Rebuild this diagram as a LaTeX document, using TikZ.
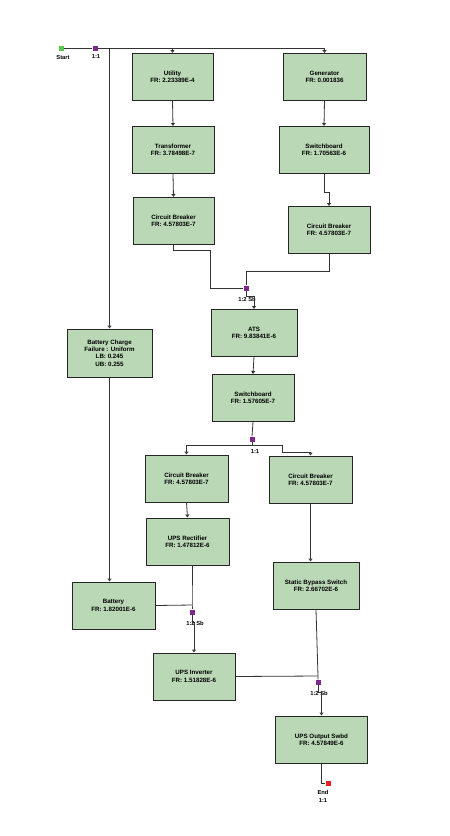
\documentclass[tikz,border=0pt]{standalone}
\usepackage{fontspec}
\setmainfont{Liberation Sans}
\usetikzlibrary{arrows.meta}
\definecolor{boxfill}{RGB}{186,216,182}
\definecolor{jpurple}{RGB}{125,40,140}
\definecolor{sgreen}{RGB}{90,200,80}
\definecolor{ered}{RGB}{230,30,30}
\tikzset{
 blk/.style={draw=black!85, line width=1pt, fill=boxfill, minimum width=#1, minimum height=47pt, inner sep=0pt, align=center, font=\bfseries\fontsize{6.2}{7.4}\selectfont},
 jn/.style={fill=jpurple, minimum size=5pt, inner sep=0pt},
 lbl/.style={font=\bfseries\fontsize{5.8}{7}\selectfont, inner sep=0pt},
 conn/.style={draw=black!80, line width=0.8pt, -{Triangle[open,length=3pt,width=4pt]}},
 plain/.style={draw=black!80, line width=0.8pt},
}
\begin{document}
\begin{tikzpicture}[x=1pt,y=-1pt]
\useasboundingbox (0,0) rectangle (450,836);
% boxes
\node[blk=81pt] (util) at (172.5,77) {Utility\\FR: 2.23389E-4};
\node[blk=83pt] (gen) at (324.5,77) {Generator\\FR: 0.001836};
\node[blk=82pt] (trans) at (173,150) {Transformer\\FR: 3.78498E-7};
\node[blk=81pt] (cbone) at (173.5,221) {Circuit Breaker\\FR: 4.57803E-7};
\node[blk=90pt] (swone) at (324,150) {Switchboard\\FR: 1.70563E-6};
\node[blk=82pt] (cbtwo) at (329,230) {Circuit Breaker\\FR: 4.57803E-7};
\node[blk=86pt] (ats) at (254,333) {ATS\\FR: 9.83841E-6};
\node[blk=82pt] (swtwo) at (253,398) {Switchboard\\FR: 1.57605E-7};
\node[blk=83pt] (cbthree) at (186.5,478.5) {Circuit Breaker\\FR: 4.57803E-7};
\node[blk=83pt] (cbfour) at (310.5,479.5) {Circuit Breaker\\FR: 4.57803E-7};
\node[blk=83pt] (rect) at (187.5,541.5) {UPS Rectifier\\FR: 1.47812E-6};
\node[blk=86pt] (sbs) at (316,585.5) {Static Bypass Switch\\FR: 2.66702E-6};
\node[blk=85pt, minimum height=48pt] (bc) at (109.5,353) {Battery Charge\\Failure : Uniform\\LB: 0.245\\UB: 0.255};
\node[blk=83pt] (bat) at (113.5,605.5) {Battery\\FR: 1.82001E-6};
\node[blk=82pt] (inv) at (194,676.5) {UPS Inverter\\FR: 1.51828E-6};
\node[blk=92pt] (out) at (321.5,739.5) {UPS Output Swbd\\FR: 4.57849E-6};
% start / end / junctions
\node[fill=sgreen, minimum size=5pt, inner sep=0pt] (start) at (61,48) {};
\node[lbl] (startl) at (63,57) {Start};
\node[jn] (jzero) at (95,48) {};
\node[lbl] (jzerol) at (96,57) {1:1};
\node[jn] (jone) at (246,288) {};
\node[lbl] (jonel) at (247,299) {1:2 Sb};
\node[jn] (jtwo) at (252,439) {};
\node[lbl] (jtwol) at (255,451) {1:1};
\node[jn] (jthree) at (192,612) {};
\node[lbl] (jthreel) at (195,623) {1:2 Sb};
\node[jn] (jfour) at (318,682) {};
\node[lbl] (jfourl) at (319,693) {1:2 Sb};
\node[fill=ered, minimum size=5pt, inner sep=0pt] (endn) at (328,783) {};
\node[lbl] (endl) at (323,792) {End};
\node[lbl] (endll) at (323,800) {1:1};
% helper coordinates
\coordinate (bend1) at (210,250);
\coordinate (bend2) at (246,271);
\coordinate (bend3) at (282,452);
\coordinate (bend4) at (192,605);
\coordinate (bend5) at (318,676);
% connectors
\draw[plain] (start.east) -- (jzero.west);
\draw[conn] (jzero.east) -| (gen.north);
\draw[conn] (jzero.east) -| (util.north);
\draw[conn] (jzero.east) -| (bc.north);
\draw[conn] (util.south) -- (trans.north);
\draw[conn] (trans.south) -- (cbone.north);
\draw[conn] (gen.south) -- (swone.north);
\draw[conn] (swone.south) -- ++(0,18) -| (cbtwo.north);
\draw[plain] (cbone.south) |- (bend1) |- (jone.west);
\draw[plain] (cbtwo.south) |- (bend2) -- (jone.north);
\draw[conn] (jone.south) -- ++(0,6) -| (ats.north);
\draw[conn] (ats.south) -- (swtwo.north);
\draw[plain] (swtwo.south) -- (jtwo.north);
\draw[conn] (jtwo.south) |- ++(-20,4) -| (cbthree.north);
\draw[conn] (jtwo.south) -- ++(0,4) -| (bend3) -| (cbfour.north);
\draw[conn] (cbthree.south) -- (rect.north);
\draw[conn] (cbfour.south) -- (cbfour.south |- sbs.north);
\draw[conn] (bc.south) -- (bc.south |- bat.north);
\draw[plain] (rect.south) -| (bend4) -- (jthree.north);
\draw[plain] (bat.east) -- (bend4);
\draw[conn] (jthree.south) -- ++(0,8) -| (inv.north);
\draw[plain] (sbs.south) -- (bend5) -- (jfour.north);
\draw[plain] (inv.east) -- (bend5);
\draw[conn] (jfour.south) -- ++(0,8) -| (out.north);
\draw[plain] (out.south) |- (endn.west);
\end{tikzpicture}
\end{document}
